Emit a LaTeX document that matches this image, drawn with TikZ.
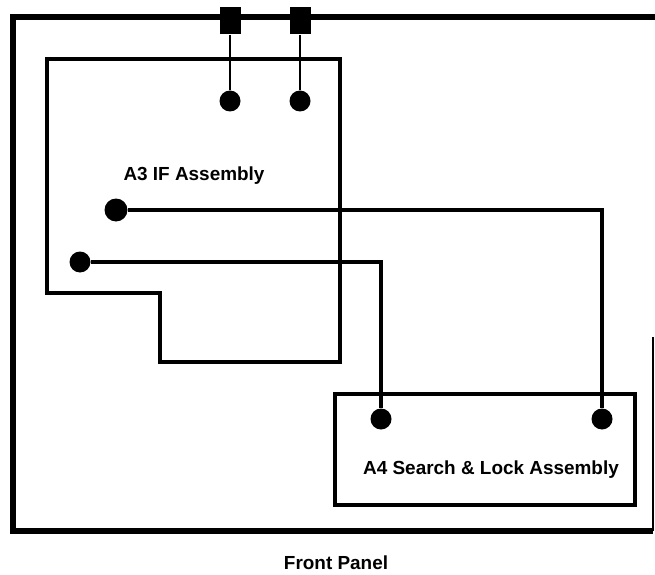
\documentclass[tikz,border=0pt]{standalone}
\usepackage{fontspec}
\setmainfont{Liberation Sans}
\begin{document}
\begin{tikzpicture}[x=1bp,y=-1bp,
  pin/.style={circle,fill,inner sep=0pt,minimum size=21bp},
  jack/.style={fill,inner sep=0pt,minimum width=21bp,minimum height=27bp},
  lbl/.style={font=\fontsize{19}{22}\selectfont\bfseries,inner sep=0pt},
  wire/.style={line width=3.2bp}]
\useasboundingbox(0,0)rectangle(655,575);
% front panel frame
\draw[line width=5.5bp](655,17)--(13,17)--(13,531)--(653,531);
\draw[line width=1.2bp](653,337)--(653,531);
% A3 and A4 boards
\draw[line width=3.2bp](47,59)--(340,59)--(340,362)--(160,362)--(160,293)--(47,293)--cycle;
\draw[line width=3.5bp](335,394)rectangle(635,505);
\node[jack](j1)at(230,21){};\node[jack](j2)at(300,21){};
\node[pin](p1)at(230,101){};\node[pin](p2)at(300,101){};
\node[pin,minimum size=23bp](p3)at(116,210){};\node[pin](p4)at(80,262){};
\node[pin](q1)at(381,419){};\node[pin](q2)at(602,419){};
\draw[line width=2.6bp](j1)--(p1);\draw[line width=2.6bp](j2)--(p2);
\draw[wire](p3)-|(q2);\draw[wire](p4)-|(q1);
\node[lbl](a3)at(194,176){A3 IF Assembly};
\node[lbl](a4)at(491,470){A4 Search \& Lock Assembly};
\node[lbl](fp)at(336,563){Front Panel};
\end{tikzpicture}
\end{document}
